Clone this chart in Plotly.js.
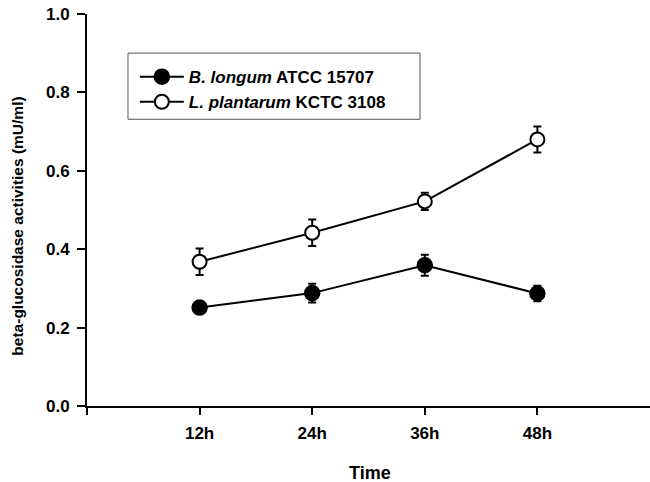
<!DOCTYPE html>
<html>
<head>
<meta charset="utf-8">
<script src="https://cdn.plot.ly/plotly-3.0.1.min.js"></script>
<style>html,body{margin:0;padding:0;background:#fff;}#chart{width:650px;height:482px;}</style>
</head>
<body>
<div id="chart"></div>
<script>
var categories = ['12h', '24h', '36h', '48h'];
var blongumName = '<i>B. longum</i> ATCC 15707';
var blongumValues = [0.251, 0.288, 0.359, 0.287];
var blongumErrors = [0.012, 0.024, 0.027, 0.020];
var lplantarumName = '<i>L. plantarum</i> KCTC 3108';
var lplantarumValues = [0.368, 0.442, 0.522, 0.680];
var lplantarumErrors = [0.034, 0.034, 0.022, 0.033];
var yTicks = [0, 0.2, 0.4, 0.6, 0.8, 1.0];
var xTitle = 'Time';
var yTitle = 'beta-glucosidase activities (mU/ml)';

var xPos = categories.map(function (c, i) { return i + 1; });
var fontFam = 'Liberation Sans, Arial, sans-serif';

var traces = [
  {
    x: xPos, y: blongumValues, name: blongumName, type: 'scatter', mode: 'lines+markers',
    line: {color: '#000', width: 2},
    marker: {symbol: 'circle', size: 15, color: '#000', line: {color: '#000', width: 1.5}},
    error_y: {type: 'data', array: blongumErrors, visible: true, color: '#000', thickness: 2, width: 4}
  },
  {
    x: xPos, y: lplantarumValues, name: lplantarumName, type: 'scatter', mode: 'lines+markers',
    line: {color: '#000', width: 2},
    marker: {symbol: 'circle', size: 14, color: '#fff', line: {color: '#000', width: 2}},
    error_y: {type: 'data', array: lplantarumErrors, visible: true, color: '#000', thickness: 2, width: 4}
  }
];

var layout = {
  width: 650, height: 482,
  margin: {l: 87, r: 0, t: 14, b: 76},
  paper_bgcolor: '#fff', plot_bgcolor: '#fff',
  showlegend: true,
  font: {family: fontFam, color: '#000', size: 14},
  xaxis: {
    range: [0, 5],
    tickvals: [0].concat(xPos),
    ticktext: [''].concat(categories),
    ticks: 'outside', ticklen: 7, tickwidth: 2, tickcolor: '#000',
    ticklabelstandoff: 4,
    showline: true, linecolor: '#000', linewidth: 2,
    showgrid: false, zeroline: false,
    tickfont: {family: fontFam, size: 17, weight: 'bold', color: '#000'}
  },
  yaxis: {
    range: [0, 1.0],
    tickvals: yTicks,
    tickformat: '.1f',
    ticks: 'outside', ticklen: 8, tickwidth: 2, tickcolor: '#000',
    ticklabelstandoff: 4,
    showline: true, linecolor: '#000', linewidth: 2,
    showgrid: false, zeroline: false,
    tickfont: {family: fontFam, size: 17, weight: 'bold', color: '#000'}
  },
  shapes: [
    {
      type: 'rect', xref: 'paper', yref: 'paper',
      x0: 0.0728, x1: 0.5915, y0: 0.7315, y1: 0.9003,
      line: {color: '#555', width: 1}, fillcolor: '#fff', layer: 'below'
    }
  ],
  annotations: [
    {
      text: xTitle, xref: 'paper', yref: 'paper', x: 0.5027, y: -0.171,
      xanchor: 'center', yanchor: 'middle', showarrow: false,
      font: {family: fontFam, size: 18, weight: 'bold', color: '#000'}
    },
    {
      text: yTitle, xref: 'paper', yref: 'paper', x: -0.1226, y: 0.46,
      xanchor: 'center', yanchor: 'middle', textangle: -90, showarrow: false,
      font: {family: fontFam, size: 15.5, weight: 'bold', color: '#000'}
    }
  ],
  legend: {
    x: 0.085, y: 0.885, xanchor: 'left', yanchor: 'top',
    bgcolor: 'rgba(0,0,0,0)', borderwidth: 0,
    font: {family: fontFam, size: 17, weight: 'bold', color: '#000'},
    itemwidth: 44
  }
};

Plotly.newPlot('chart', traces, layout, {displayModeBar: false, staticPlot: true});
</script>
</body>
</html>
